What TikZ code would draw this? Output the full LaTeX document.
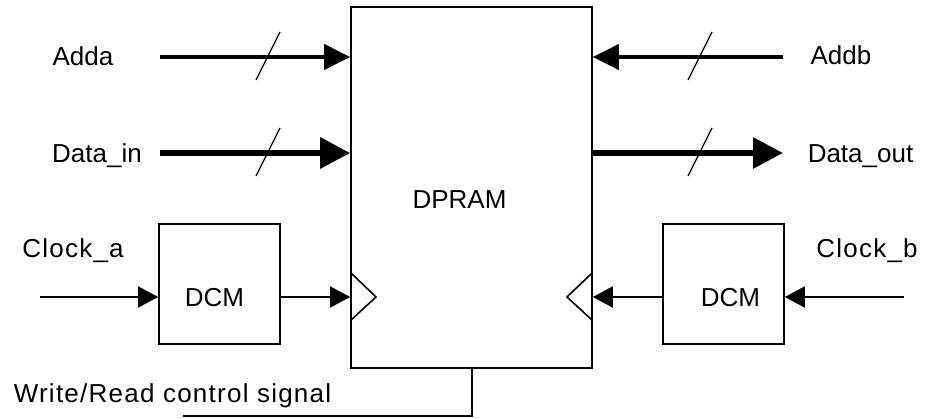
\documentclass[tikz,border=0pt]{standalone}
\usepackage{fontspec}
\setmainfont{Liberation Sans}
\usetikzlibrary{arrows.meta}
\begin{document}
\begin{tikzpicture}[x=1pt,y=-1pt,
  lbl/.style={anchor=base,inner sep=0pt,font=\fontsize{26}{30}\selectfont},
  wide/.style={font=\fontsize{26}{30}\selectfont\addfontfeature{LetterSpace=4.8}},
  blk/.style={draw,line width=1.6pt,inner sep=0pt},
  thin/.style={line width=1.6pt},
  addrbus/.style={line width=4pt,-{Triangle[length=26pt,width=25pt]}},
  databus/.style={line width=6pt,-{Triangle[length=30pt,width=30pt]}},
  clk/.style={line width=1.6pt,-{Triangle[length=20pt,width=21pt]}},
  slash/.style={line width=1.3pt}]
\useasboundingbox (0,0) rectangle (928,419);
% blocks
\node[blk,minimum width=241pt,minimum height=361pt] (dpram) at (471.5,187.5) {};
\node[lbl] (dpramlbl) at (459.5,209) {DPRAM};
\node[blk,minimum width=121pt,minimum height=120pt] (dcma) at (219.5,284) {};
\node[lbl] (dcmalbl) at (214.5,307) {DCM};
\node[blk,minimum width=121pt,minimum height=120pt] (dcmb) at (723.5,284) {};
\node[lbl] (dcmblbl) at (730.5,307) {DCM};
% labels
\node[lbl] (adda) at (83,66) {Adda};
\node[lbl] (datain) at (97,163) {Data\_in};
\node[lbl] (addb) at (841,65) {Addb};
\node[lbl] (dataout) at (860.5,163) {Data\_out};
\node[lbl,wide] (clocka) at (73,258) {Clock\_a};
\node[lbl,wide] (clockb) at (867,258) {Clock\_b};
\node[lbl,wide] (wr) at (172.5,402) {Write/Read control signal};
% end points
\coordinate (addaS) at (160,57);
\coordinate (datainS) at (160,153);
\coordinate (addbS) at (783,57);
\coordinate (dataoutE) at (783,153);
\coordinate (clkaS) at (40,297);
\coordinate (clkbS) at (904,297);
\coordinate (wrS) at (183,416);
\coordinate (wrX) at (472,0);
% buses
\draw[addrbus] (addaS) -- (addaS -| dpram.west);
\draw[databus] (datainS) -- (datainS -| dpram.west);
\draw[addrbus] (addbS) -- (addbS -| dpram.east);
\draw[databus] (datainS -| dpram.east) -- (dataoutE);
% bus slashes
\draw[slash] (256,80) -- (280,32);
\draw[slash] (256,176) -- (280,128);
\draw[slash] (688,80) -- (712,32);
\draw[slash] (688,176) -- (712,128);
% clocks
\draw[clk] (clkaS) -- (clkaS -| dcma.west);
\draw[clk] (clkaS -| dcma.east) -- (clkaS -| dpram.west);
\draw[clk] (clkbS) -- (clkbS -| dcmb.east);
\draw[clk] (clkbS -| dcmb.west) -- (clkbS -| dpram.east);
% clock triangles
\draw[thin,line join=miter] (351,273) -- (376,297) -- (351,320);
\draw[thin,line join=miter] (592,273) -- (567,297) -- (592,320);
% write/read control
\draw[thin] (wrS) -| (dpram.south -| wrX);
\end{tikzpicture}
\end{document}
